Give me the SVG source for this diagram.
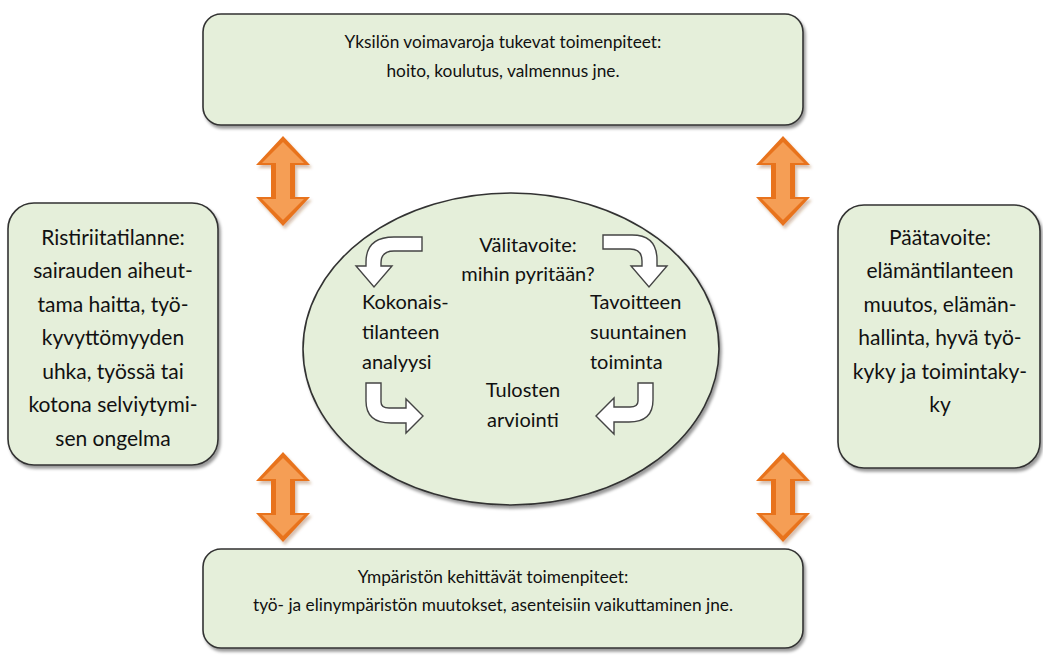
<svg xmlns="http://www.w3.org/2000/svg" width="1043" height="656" viewBox="0 0 1043 656">
<defs>
<filter id="sh" x="-10%" y="-10%" width="125%" height="130%">
<feDropShadow dx="2" dy="3" stdDeviation="1.5" flood-color="#000" flood-opacity="0.4"/>
</filter>
<filter id="osh" x="-20%" y="-20%" width="150%" height="150%">
<feDropShadow dx="2" dy="3" stdDeviation="1.5" flood-color="#8a4a1a" flood-opacity="0.35"/>
</filter>
<path id="dbl" d="M0,-45 L27,-16 L12,-16 L12,16 L27,16 L0,45 L-27,16 L-12,16 L-12,-16 L-27,-16 Z"/>
<path id="dbli" d="M0,-39 L21,-18 L7,-18 L7,18 L21,18 L0,39 L-21,18 L-7,18 L-7,-18 L-21,-18 Z"/>
</defs>
<style>
.box{fill:#E5EFDA;stroke:#333;stroke-width:1.6}
.t{font-family:Lato,"Open Sans",sans-serif;font-size:17.3px;fill:#111}
.s{font-size:21px}
.e{font-size:20px}
.c{text-anchor:middle}
.cur{fill:#fff;stroke:#444;stroke-width:1.4;stroke-linejoin:miter}
.o1{fill:#E8731F}
.o2{fill:#F59E55}
</style>
<g id="top-box">
<rect class="box" x="203" y="14" width="600" height="111" rx="18" filter="url(#sh)"/>
<text class="t c" x="503" y="48">Yksilön voimavaroja tukevat toimenpiteet:</text>
<text class="t c" x="503" y="77">hoito, koulutus, valmennus jne.</text>
</g>
<g id="bottom-box">
<rect class="box" x="203" y="549" width="600" height="99" rx="18" filter="url(#sh)"/>
<text class="t c" x="493" y="583">Ympäristön kehittävät toimenpiteet:</text>
<text class="t c" x="493" y="611">työ- ja elinympäristön muutokset, asenteisiin vaikuttaminen jne.</text>
</g>
<g id="left-box">
<rect class="box" x="8" y="203" width="210" height="262" rx="26" filter="url(#sh)"/>
<text class="t s c" x="113" y="245">Ristiriitatilanne:</text>
<text class="t s c" x="113" y="278">sairauden aiheut-</text>
<text class="t s c" x="113" y="312">tama haitta, työ-</text>
<text class="t s c" x="113" y="345">kyvyttömyyden</text>
<text class="t s c" x="113" y="379">uhka, työssä tai</text>
<text class="t s c" x="113" y="412">kotona selviytymi-</text>
<text class="t s c" x="113" y="446">sen ongelma</text>
</g>
<g id="right-box">
<rect class="box" x="838" y="205" width="202" height="263" rx="26" filter="url(#sh)"/>
<text class="t s c" x="940" y="245">Päätavoite:</text>
<text class="t s c" x="940" y="278">elämäntilanteen</text>
<text class="t s c" x="940" y="312">muutos, elämän-</text>
<text class="t s c" x="940" y="345">hallinta, hyvä työ-</text>
<text class="t s c" x="940" y="379">kyky ja toimintaky-</text>
<text class="t s c" x="940" y="412">ky</text>
</g>
<g id="cycle">
<ellipse cx="511" cy="349" rx="208" ry="156" fill="#E5EFDA" stroke="#333" stroke-width="1.6" filter="url(#sh)"/>
<text class="t e c" x="528" y="252">Välitavoite:</text>
<text class="t e c" x="528" y="281">mihin pyritään?</text>
<text class="t e" x="362" y="309">Kokonais-</text>
<text class="t e" x="362" y="339">tilanteen</text>
<text class="t e" x="362" y="369">analyysi</text>
<text class="t e" x="590" y="309">Tavoitteen</text>
<text class="t e" x="590" y="339">suuntainen</text>
<text class="t e" x="590" y="369">toiminta</text>
<text class="t e c" x="523" y="397">Tulosten</text>
<text class="t e c" x="523" y="427">arviointi</text>
</g>
<g id="connectors">
<path class="cur" d="M422,237 L394,237 Q366,237 366,262 L366,266 L356,266 L374,287 L392,266 L381,266 L381,263 Q381,251 394,251 L422,251 Z"/>
<path class="cur" d="M603,235 L632,235 Q657,235 657,260 L657,266 L667,266 L649,287 L631,266 L642,266 L642,261 Q642,249 630,249 L603,249 Z"/>
<path class="cur" d="M366,383 L381,383 L381,402 Q381,408 389,408 L406,408 L406,399 L423,416 L406,433 L406,423 L391,423 Q366,423 366,401 Z"/>
<path class="cur" d="M653,383 L638,383 L638,401 Q638,407 630,407 L614,407 L614,398 L596,416 L614,434 L614,422 L629,422 Q653,422 653,400 Z"/>
<g filter="url(#osh)">
<use href="#dbl" class="o1" x="283" y="181"/>
<use href="#dbl" class="o1" x="783" y="181"/>
<use href="#dbl" class="o1" x="283" y="497"/>
<use href="#dbl" class="o1" x="783" y="497"/>
</g>
<use href="#dbli" class="o2" x="283" y="181"/>
<use href="#dbli" class="o2" x="783" y="181"/>
<use href="#dbli" class="o2" x="283" y="497"/>
<use href="#dbli" class="o2" x="783" y="497"/>
</g>
</svg>
